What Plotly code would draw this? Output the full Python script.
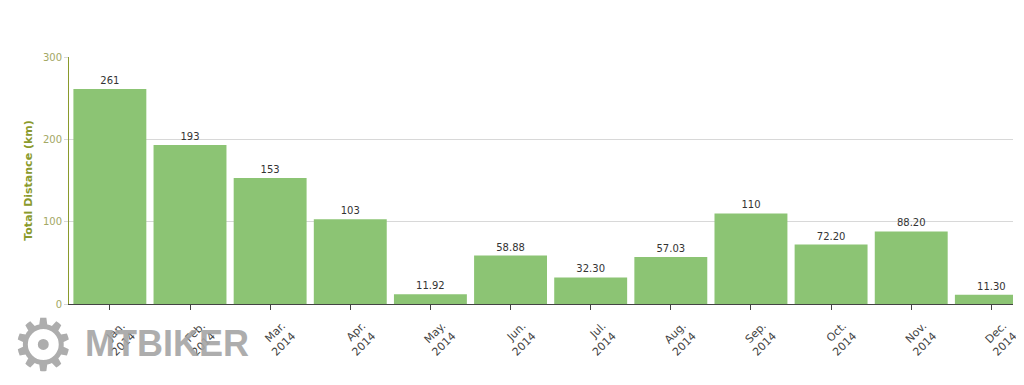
import plotly.graph_objects as go

months = ["Jan.<br>2014", "Feb.<br>2014", "Mar.<br>2014", "Apr.<br>2014", "May.<br>2014", "Jun.<br>2014",
          "Jul.<br>2014", "Aug.<br>2014", "Sep.<br>2014", "Oct.<br>2014", "Nov.<br>2014", "Dec.<br>2014"]
distance = [261, 193, 153, 103, 11.92, 58.88, 32.30, 57.03, 110, 72.20, 88.20, 11.30]
labels = ["261", "193", "153", "103", "11.92", "58.88", "32.30", "57.03", "110", "72.20", "88.20", "11.30"]
y_ticks = [0, 100, 200, 300]

olive = "#8a9a2c"

fig = go.Figure(go.Bar(
    x=list(range(len(months))), y=distance, text=labels,
    textposition="outside", cliponaxis=True,
    textfont=dict(size=10, color="#333333", family="DejaVu Sans"),
    marker=dict(color="#8cc474", line=dict(width=0)),
    width=0.91,
))

fig.update_layout(
    width=1016, height=377,
    margin=dict(l=61, r=11, t=49, b=81, autoexpand=False),
    plot_bgcolor="white", paper_bgcolor="white",
    showlegend=False,
    font=dict(family="DejaVu Sans"),
)
fig.update_xaxes(
    tickmode="array", tickvals=list(range(len(months))), ticktext=months,
    range=[-0.51, 11.27], tickangle=-45, automargin=False,
    tickfont=dict(size=11, color="#444444"),
    ticklabelshift=12, ticklabelstandoff=5,
    showline=True, linecolor="#444444", linewidth=1,
    ticks="outside", ticklen=5, tickcolor="#444444",
    showgrid=False, zeroline=False,
)
fig.update_yaxes(
    range=[0, 300], tickvals=y_ticks, automargin=False,
    tickfont=dict(size=10, color="#a3a865"),
    showline=True, linecolor=olive, linewidth=1,
    showgrid=True, gridcolor="#d8d8d8", zeroline=False,
    ticks="outside", ticklen=4, tickcolor="#d8d8d8",
    title=dict(text="<b>Total Distance (km)</b>", font=dict(size=11, color=olive), standoff=8),
)

# watermark
fig.add_annotation(xref="paper", yref="paper", x=-0.0275, y=-0.166, text="⚙",
                   showarrow=False, font=dict(size=72, color="#a5a5a5", family="DejaVu Sans"),
                   xanchor="center", yanchor="middle", opacity=0.9)
fig.add_annotation(xref="paper", yref="paper", x=0.0148, y=-0.158, text="<b>MTBIKER</b>",
                   showarrow=False, font=dict(size=36, color="#a5a5a5", family="Liberation Sans"),
                   xanchor="left", yanchor="middle", opacity=0.9)

fig.write_html("out.html")
